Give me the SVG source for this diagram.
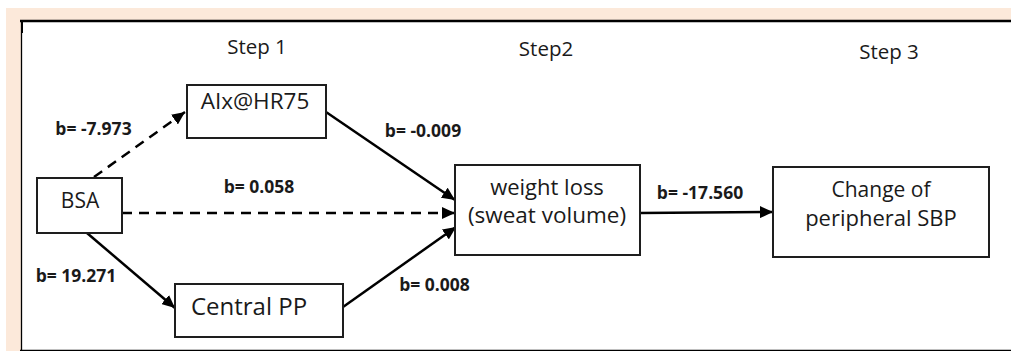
<svg xmlns="http://www.w3.org/2000/svg" width="1011" height="351" viewBox="0 0 1011 351">
<defs>
<style>
.box{fill:#fff;stroke:#1e1e1e;stroke-width:2}
.t{font-family:"Open Sans","Liberation Sans",sans-serif;font-size:21px;fill:#1a1a1a;text-anchor:middle}
.s{font-family:"Open Sans","Liberation Sans",sans-serif;font-size:20.5px;fill:#1a1a1a;text-anchor:middle}
.b{font-family:"Open Sans","Liberation Sans",sans-serif;font-size:17.5px;font-weight:bold;fill:#1a1a1a;text-anchor:middle}
.c{stroke:#000;stroke-width:2.5;fill:none}
.d{stroke-dasharray:10 7}
</style>
<marker id="ah" markerUnits="userSpaceOnUse" markerWidth="14" markerHeight="12" refX="13" refY="6" orient="auto">
<path d="M0,0 L13,6 L0,12 Z" fill="#000"/>
</marker>
</defs>
<rect x="6" y="8" width="1005" height="343" fill="#fce9da"/>
<rect x="21" y="21" width="990" height="329" fill="#fff"/>
<line x1="20" y1="21" x2="1011" y2="21" stroke="#000" stroke-width="2.5"/>
<line x1="21.5" y1="20" x2="21.5" y2="351" stroke="#000" stroke-width="1.3"/>
<line x1="20" y1="350.5" x2="1011" y2="350.5" stroke="#000" stroke-width="1.3"/>
<rect x="21" y="20" width="2" height="13" fill="#000"/>
<g id="steps">
<text class="s" x="257" y="54">Step 1</text>
<text class="s" x="546" y="56">Step2</text>
<text class="s" x="889" y="59">Step 3</text>
</g>
<g id="connectors">
<line class="c d" x1="94" y1="177" x2="185" y2="112" marker-end="url(#ah)"/>
<line class="c d" x1="122" y1="213" x2="455" y2="213" marker-end="url(#ah)"/>
<line class="c" x1="87" y1="233" x2="175" y2="308" marker-end="url(#ah)"/>
<line class="c" x1="326" y1="112" x2="455" y2="200" marker-end="url(#ah)"/>
<line class="c" x1="343" y1="307" x2="456" y2="227" marker-end="url(#ah)"/>
<line class="c" x1="640" y1="213" x2="773" y2="212" marker-end="url(#ah)"/>
<text class="b" x="93.5" y="135">b= -7.973</text>
<text class="b" x="259" y="193">b= 0.058</text>
<text class="b" x="76" y="282">b= 19.271</text>
<text class="b" x="423" y="137">b= -0.009</text>
<text class="b" x="434.5" y="291">b= 0.008</text>
<text class="b" x="700" y="199">b= -17.560</text>
</g>
<g id="n-aix">
<rect class="box" x="187" y="85" width="139" height="53"/>
<text class="t" x="255" y="109" style="font-size:22.5px">AIx@HR75</text>
</g>
<g id="n-bsa">
<rect class="box" x="37" y="178" width="85" height="55"/>
<text class="t" x="80" y="208">BSA</text>
</g>
<g id="n-cpp">
<rect class="box" x="175" y="284" width="168" height="53"/>
<text class="t" x="249" y="315" style="font-size:24px">Central PP</text>
</g>
<g id="n-wl">
<rect class="box" x="455" y="165" width="185" height="90"/>
<text class="t" x="547" y="195" style="font-size:22px">weight loss</text>
<text class="t" x="547" y="223" style="font-size:22.5px">(sweat volume)</text>
</g>
<g id="n-chg">
<rect class="box" x="773" y="167" width="216" height="90"/>
<text class="t" x="881" y="197">Change of</text>
<text class="t" x="881" y="226" style="font-size:22px">peripheral SBP</text>
</g>
</svg>
